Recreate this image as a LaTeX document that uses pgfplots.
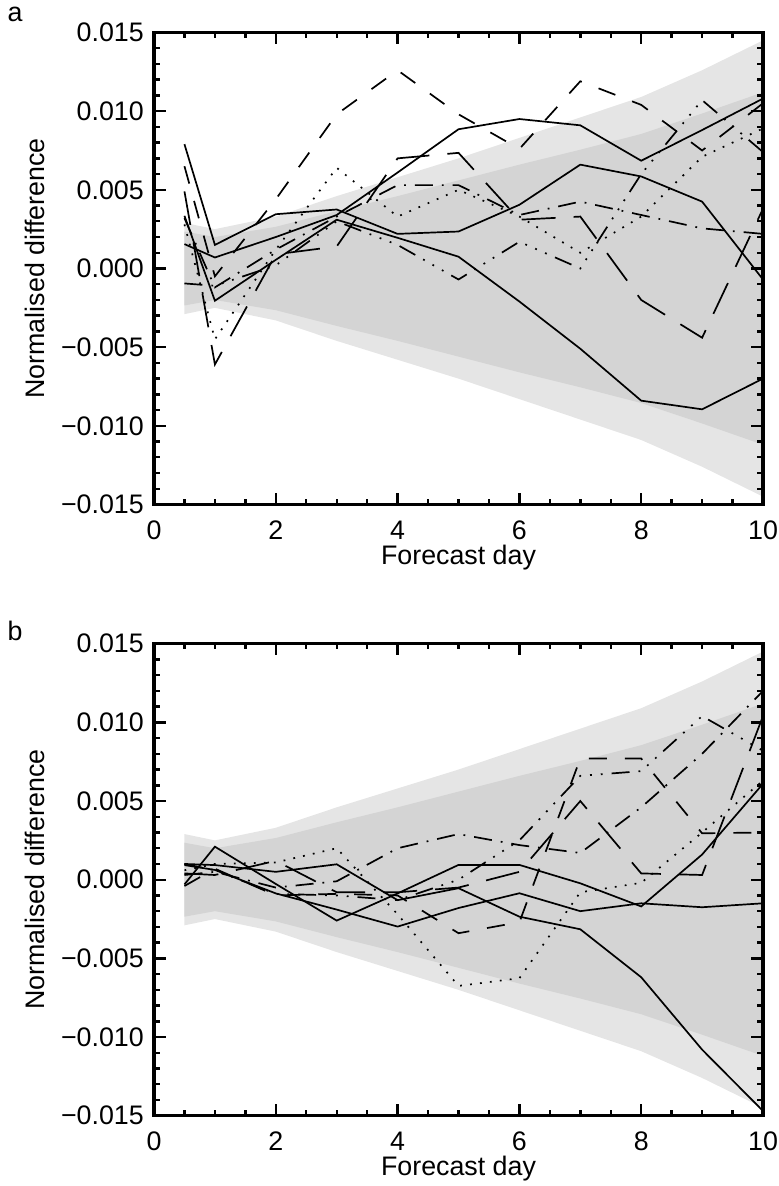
\documentclass[border=0pt]{standalone}
\usepackage{fontspec}
\setmainfont{Liberation Sans}
\usepackage{pgfplots}
\pgfplotsset{compat=1.18}

\definecolor{bandouter}{gray}{0.90}
\definecolor{bandinner}{gray}{0.83}

\newcommand{\fs}{\fontsize{13.4}{16}\selectfont}

\pgfplotsset{
  panel/.style={
    scale only axis, width=304.5pt, height=236pt,
    xmin=0, xmax=10, ymin=-0.015, ymax=0.015,
    axis on top,
    line width=1.6pt,
    xtick={0,2,4,6,8,10}, xticklabels={0,2,4,6,8,10},
    minor x tick num=3,
    ytick={-0.015,-0.01,-0.005,0,0.005,0.01,0.015},
    yticklabels={−0.015,−0.010,−0.005,0.000,0.005,0.010,0.015},
    minor y tick num=4,
    scaled y ticks=false,
    tick align=inside,
    major tick length=5.8pt, minor tick length=2.8pt,
    tick style={black, line width=1.2pt},
    axis line style={line width=1.6pt},
    ticklabel style={font=\fs},
    xticklabel style={yshift=-4pt},
    yticklabel style={xshift=-1pt},
    xlabel={Forecast day}, ylabel={Normalised difference},
    every axis x label/.style={at={(axis description cs:0.5,-0.112)}, anchor=center, font=\fs},
    every axis y label/.style={at={(axis description cs:-0.1954,0.5)}, rotate=90, anchor=center, font=\fs},
  },
  ln/.style={black, line width=0.85pt, mark=none},
  sol/.style={ln},
  dot/.style={ln, dash pattern=on 0.9pt off 4.1pt},
  dsh/.style={ln, dash pattern=on 9pt off 9pt},
  ldsh/.style={ln, dash pattern=on 17pt off 9pt},
  dd/.style={ln, dash pattern=on 9pt off 4.5pt on 0.9pt off 4.5pt},
  dddd/.style={ln, dash pattern=on 9pt off 4.5pt on 0.9pt off 4.5pt on 0.9pt off 4.5pt on 0.9pt off 4.5pt},
  band/.style={draw=none, line width=0pt},
}

\begin{document}
\begin{tikzpicture}
\path[use as bounding box] (0pt,0pt) rectangle (389.5pt,-593pt);
\node[font=\fs] at (7.5pt,-7pt) {a};
\begin{axis}[panel, at={(77pt,-16.25pt)}, anchor=north west]
\addplot[band, fill=bandouter] coordinates {(0.5,0.0029)(1,0.0025)(2,0.0033)(3,0.0046)(4,0.0058)(5,0.0070)(6,0.0083)(7,0.0096)(8,0.0109)(9,0.0126)(10,0.0145)(10,-0.0145)(9,-0.0126)(8,-0.0109)(7,-0.0096)(6,-0.0083)(5,-0.0070)(4,-0.0058)(3,-0.0046)(2,-0.0033)(1,-0.0025)(0.5,-0.0029)} -- cycle;
\addplot[band, fill=bandinner] coordinates {(0.5,0.00235)(1,0.0020)(2,0.00265)(3,0.00365)(4,0.0046)(5,0.0056)(6,0.0066)(7,0.00755)(8,0.00855)(9,0.00985)(10,0.0112)(10,-0.0112)(9,-0.00985)(8,-0.00855)(7,-0.00755)(6,-0.0066)(5,-0.0056)(4,-0.0046)(3,-0.00365)(2,-0.00265)(1,-0.0020)(0.5,-0.00235)} -- cycle;
% solid
\addplot[sol] coordinates {(0.5,0.0079)(1,0.0015)(2,0.00345)(3,0.00375)(4,0.0022)(5,0.00235)(6,0.00405)(7,0.0066)(8,0.00585)(9,0.00425)(10,-0.0007)};
\addplot[sol] coordinates {(0.5,0.00155)(1,0.0007)(2,0.0020)(3,0.0034)(4,0.0061)(5,0.00885)(6,0.0095)(7,0.0091)(8,0.00685)(9,0.0088)(10,0.0108)};
\addplot[sol] coordinates {(0.5,0.00335)(1,-0.00205)(2,0.00055)(3,0.0031)(4,0.00195)(5,0.00075)(6,-0.0021)(7,-0.0051)(8,-0.0084)(9,-0.00895)(10,-0.0070)};
% dashed
\addplot[dsh] coordinates {(0.5,0.0065)(1,-0.0005)(2,0.0044)(3,0.0098)(4,0.0126)(5,0.0098)(6,0.0076)(7,0.0119)(8,0.0104)(9,0.0075)(10,0.0105)};
% long dash
\addplot[ldsh] coordinates {(0.5,0.0049)(1,-0.0061)(2,0.0009)(3,0.0014)(4,0.0070)(5,0.00735)(6,0.0031)(7,0.0033)(8,-0.0020)(9,-0.0044)(10,0.0038)};
% dotted
\addplot[dot] coordinates {(0.5,0.0028)(1,-0.0045)(2,0.0012)(3,0.0064)(4,0.0033)(5,0.0050)(6,0.0033)(7,0.0010)(8,0.0033)(9,0.0071)(10,0.0089)};
% dash dot
\addplot[dd] coordinates {(0.5,0.0032)(1,-0.0012)(2,0.0012)(3,0.0033)(4,0.0053)(5,0.0053)(6,0.0034)(7,0.00425)(8,0.0034)(9,0.00255)(10,0.0022)};
% dash dot dot dot
\addplot[dddd] coordinates {(0.5,-0.00095)(1,-0.0011)(2,0.0002)(3,0.0030)(4,0.0015)(5,-0.0007)(6,0.0017)(7,0.0000)(8,0.0060)(9,0.0107)(10,0.0074)};
\end{axis}

\node[font=\fs] at (7.5pt,-315.5pt) {b};
\begin{axis}[panel, at={(77pt,-321.85pt)}, anchor=north west]
\addplot[band, fill=bandouter] coordinates {(0.5,0.0029)(1,0.0025)(2,0.0033)(3,0.0046)(4,0.0058)(5,0.0070)(6,0.0083)(7,0.0096)(8,0.0109)(9,0.0126)(10,0.0145)(10,-0.0145)(9,-0.0126)(8,-0.0109)(7,-0.0096)(6,-0.0083)(5,-0.0070)(4,-0.0058)(3,-0.0046)(2,-0.0033)(1,-0.0025)(0.5,-0.0029)} -- cycle;
\addplot[band, fill=bandinner] coordinates {(0.5,0.00235)(1,0.0020)(2,0.00265)(3,0.00365)(4,0.0046)(5,0.0056)(6,0.0066)(7,0.00755)(8,0.00855)(9,0.00985)(10,0.0112)(10,-0.0112)(9,-0.00985)(8,-0.00855)(7,-0.00755)(6,-0.0066)(5,-0.0056)(4,-0.0046)(3,-0.00365)(2,-0.00265)(1,-0.0020)(0.5,-0.00235)} -- cycle;
% solid
\addplot[sol] coordinates {(0.5,-0.0003)(1,0.0021)(2,-0.00027)(3,-0.0026)(4,-0.00087)(5,0.00094)(6,0.00094)(7,-0.00023)(8,-0.0017)(9,0.0016)(10,0.0061)};
\addplot[sol] coordinates {(0.5,0.0010)(1,0.00093)(2,0.0005)(3,0.00098)(4,-0.0013)(5,-0.00054)(6,-0.00235)(7,-0.00315)(8,-0.0062)(9,-0.0108)(10,-0.0147)};
\addplot[sol] coordinates {(0.5,0.00093)(1,0.00062)(2,-0.00087)(3,-0.0019)(4,-0.00298)(5,-0.0018)(6,-0.00086)(7,-0.0020)(8,-0.0015)(9,-0.00175)(10,-0.0015)};
% dotted
\addplot[dot] coordinates {(0.5,0.0006)(1,0.0010)(2,0.0011)(3,0.0020)(4,-0.0022)(5,-0.00675)(6,-0.00626)(7,-0.0008)(8,-0.0002)(9,0.0030)(10,0.0063)};
% dash dot
\addplot[dd] coordinates {(0.5,0.0003)(1,0.0005)(2,-0.0005)(3,-0.0001)(4,0.0020)(5,0.0029)(6,0.0022)(7,0.0017)(8,0.0046)(9,0.0080)(10,0.0120)};
% dashed
\addplot[dsh] coordinates {(0.5,-0.0004)(1,0.0007)(2,-0.0010)(3,-0.0009)(4,-0.0010)(5,-0.0034)(6,-0.0027)(7,0.0077)(8,0.0077)(9,0.00295)(10,0.0030)};
% long dash
\addplot[ldsh] coordinates {(0.5,0.0004)(1,0.0003)(2,0.0012)(3,-0.0008)(4,-0.0008)(5,-0.0005)(6,0.0005)(7,0.0050)(8,0.0004)(9,0.0003)(10,0.0104)};
% dash dot dot dot
\addplot[dddd] coordinates {(0.5,0.0010)(1,0.0006)(2,-0.0009)(3,-0.0010)(4,-0.0013)(5,0.0000)(6,0.0025)(7,0.0066)(8,0.0069)(9,0.0104)(10,0.0082)};
\end{axis}
\end{tikzpicture}
\end{document}
